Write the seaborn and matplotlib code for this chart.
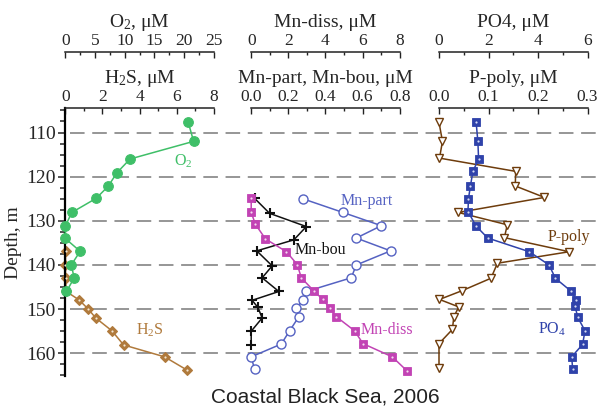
import matplotlib
matplotlib.use('Agg')
import matplotlib.pyplot as plt
import matplotlib.transforms as mtransforms
from matplotlib.ticker import MultipleLocator, FormatStrFormatter
import seaborn as sns

# ---------------- data ----------------
o2_depth = [107.7, 112.0, 116.0, 119.1, 122.2, 124.9, 128.1, 131.2, 134.0, 136.9, 140.0, 142.9, 146.0]
o2 = [20.7, 21.6, 10.9, 8.7, 7.2, 5.2, 1.1, 0.0, 0.0, 2.5, 1.0, 1.5, 0.2]

h2s_depth = [136.9, 140.0, 142.9, 146.0, 147.9, 150.0, 152.0, 154.9, 158.1, 160.8, 163.8]
h2s = [0.03, 0.0, 0.02, 0.05, 0.74, 1.24, 1.64, 2.51, 3.14, 5.35, 6.56]

mn_diss_depth = [124.9, 128.1, 130.8, 134.1, 137.0, 139.9, 142.9, 145.9, 147.8, 149.7, 151.7, 154.9, 157.8, 160.8, 164.0]
mn_diss = [0.0, 0.0, 0.23, 0.77, 1.90, 2.48, 2.70, 3.38, 3.86, 4.22, 4.58, 5.57, 6.02, 7.6, 8.4]

mn_bou_depth = [124.9, 128.3, 131.3, 134.3, 136.8, 140.2, 142.9, 146.0, 148.0, 149.6, 152.0, 155.0, 158.1]
mn_bou = [0.018, 0.099, 0.297, 0.23, 0.03, 0.113, 0.059, 0.149, 0.005, 0.036, 0.059, 0.0, 0.0]

mn_part_depth = [125.0, 128.1, 131.1, 133.9, 136.8, 140.0, 142.9, 146.0, 147.9, 149.8, 151.7, 154.9, 157.9, 160.8, 163.6]
mn_part = [0.278, 0.494, 0.701, 0.566, 0.751, 0.566, 0.539, 0.297, 0.278, 0.243, 0.257, 0.207, 0.162, 0.0, 0.018]

po4_depth = [107.7, 112.0, 116.0, 118.8, 122.1, 125.0, 127.9, 131.2, 133.9, 137.0, 140.0, 143.0, 146.0, 147.9, 149.3, 151.8, 154.9, 158.0, 160.8, 163.5]
po4 = [1.50, 1.57, 1.60, 1.37, 1.27, 1.19, 1.17, 1.50, 1.97, 3.65, 4.45, 4.70, 5.35, 5.55, 5.50, 5.60, 5.90, 5.80, 5.36, 5.40]

ppoly_depth = [107.7, 112.0, 115.8, 118.8, 122.1, 124.7, 128.1, 130.9, 133.8, 137.0, 139.6, 143.0, 145.8, 147.8, 149.5, 151.7, 154.6, 157.8, 163.4]
ppoly = [0.0, 0.007, 0.001, 0.155, 0.154, 0.213, 0.039, 0.138, 0.132, 0.263, 0.118, 0.105, 0.047, 0.001, 0.040, 0.030, 0.027, 0.0, 0.0]

depth_ticks = [110, 120, 130, 140, 150, 160]

# ---------------- style ----------------
sns.set_style('white')
plt.rcParams['font.family'] = ['Liberation Serif', 'DejaVu Serif']
plt.rcParams['mathtext.fontset'] = 'custom'
plt.rcParams['mathtext.rm'] = 'Liberation Serif'
plt.rcParams['mathtext.it'] = 'Liberation Serif:italic'
plt.rcParams['lines.scale_dashes'] = False

C_O2 = '#3fbf68'
C_H2S = '#b07a3c'
C_MNDISS = '#c243b4'
C_MNPART = '#5562c2'
C_MNBOU = '#111111'
C_PO4 = '#2f42aa'
C_PPOLY = '#6e3c0c'

W, H = 599, 408
fig = plt.figure(figsize=(W / 100, H / 100), dpi=100)
fig.patch.set_facecolor('white')

TOP_PX, BOT_PX, WID_PX = 108.0, 376.5, 148.5


def pos(left_px):
    return [left_px / W, 1 - BOT_PX / H, WID_PX / W, (BOT_PX - TOP_PX) / H]


ax1 = fig.add_axes(pos(65.3))
ax2 = fig.add_axes(pos(251.2))
ax3 = fig.add_axes(pos(439.0))

TICK_FS = 12.5
LABEL_FS = 14
IN_FS = 11.5


def style_axis(ax, xlim, major, minor, fmt, label, outward=None):
    ax.set_xlim(*xlim)
    ax.xaxis.set_major_locator(MultipleLocator(major))
    ax.xaxis.set_minor_locator(MultipleLocator(minor))
    ax.xaxis.set_major_formatter(FormatStrFormatter(fmt))
    ax.xaxis.tick_top()
    ax.xaxis.set_label_position('top')
    ax.tick_params(axis='x', which='major', direction='in', length=4, width=1,
                   labelsize=TICK_FS, pad=2.5, top=True, bottom=False, color='#222222')
    ax.tick_params(axis='x', which='minor', direction='in', length=2.5, width=1,
                   top=True, bottom=False, color='#222222')
    ax.set_xlabel(label, fontsize=LABEL_FS, labelpad=4)
    for s in ['bottom', 'right', 'left']:
        ax.spines[s].set_visible(False)
    ax.spines['top'].set_visible(True)
    ax.spines['top'].set_linewidth(1.1)
    ax.spines['top'].set_color('#222222')
    if outward is not None:
        ax.spines['top'].set_position(('outward', outward))
    ax.patch.set_visible(False)


panels = []
for ax in (ax1, ax2, ax3):
    tw = ax.twiny()
    panels.append((ax, tw))
    ax.set_ylim(165.25, 104.45)
    ax.grid(False)
    tw.grid(False)

(a1, t1), (a2, t2), (a3, t3) = panels

OUT = 56 * 0.72
style_axis(a1, (0, 8), 2, 1, '%d', r'H$_2$S, μM')
style_axis(t1, (0, 25), 5, 2.5, '%d', r'O$_2$, μM', outward=OUT)
style_axis(a2, (0, 0.8), 0.2, 0.1, '%.1f', 'Mn-part, Mn-bou, μM')
style_axis(t2, (0, 8), 2, 1, '%d', 'Mn-diss, μM', outward=OUT)
style_axis(a3, (0, 0.3), 0.1, 0.05, '%.1f', 'P-poly, μM')
style_axis(t3, (0, 6), 2, 1, '%d', 'PO4, μM', outward=OUT)

# y axis (depth) only on the first panel
a1.spines['left'].set_visible(True)
a1.spines['left'].set_linewidth(1.6)
a1.spines['left'].set_color('black')
a1.set_yticks(depth_ticks)
a1.yaxis.set_minor_locator(MultipleLocator(2.5))
a1.tick_params(axis='y', which='major', direction='out', length=5, width=1.1,
               labelsize=14, pad=2, left=True, right=False)
a1.tick_params(axis='y', which='minor', direction='out', length=3.5, width=1.1, left=True)
a1.set_ylabel('Depth, m', fontsize=LABEL_FS, labelpad=3)
for a in (a2, a3):
    a.tick_params(axis='y', which='both', left=False, right=False, labelleft=False)
    a.set_ylabel('')

# dashed horizontal guides across the whole figure
trans = mtransforms.blended_transform_factory(fig.transFigure, a1.transData)
for d in depth_ticks:
    a1.plot([70 / W, 1.0], [d, d], transform=trans, color='#8e8e8e', lw=1.3,
            dashes=(10.5, 5.5), clip_on=False, zorder=0.5)

LW = 1.1

# ---------------- panel 1 ----------------
sns.lineplot(x=h2s, y=h2s_depth, ax=a1, orient='y', sort=False, estimator=None,
             color=C_H2S, lw=LW, marker='D', markersize=4.8, markerfacecolor=C_H2S,
             markeredgecolor=C_H2S, markeredgewidth=0.8, clip_on=False, legend=False, zorder=2)
sns.scatterplot(x=h2s, y=h2s_depth, ax=a1, color='#f3e6d2', s=2.5, linewidth=0,
                clip_on=False, legend=False, zorder=3)
sns.lineplot(x=o2, y=o2_depth, ax=t1, orient='y', sort=False, estimator=None,
             color=C_O2, lw=LW, marker='o', markersize=7, markerfacecolor=C_O2,
             markeredgecolor=C_O2, clip_on=False, legend=False, zorder=2)
a1.text(6.38, 116.6, r'O$_2$', color=C_O2, fontsize=IN_FS, ha='center', va='center')
a1.text(4.58, 154.7, r'H$_2$S', color=C_H2S, fontsize=IN_FS, ha='center', va='center')

# ---------------- panel 2 ----------------
sns.lineplot(x=mn_part, y=mn_part_depth, ax=a2, orient='y', sort=False, estimator=None,
             color=C_MNPART, lw=LW, marker='o', markersize=6.5, markerfacecolor='white',
             markeredgecolor=C_MNPART, markeredgewidth=1.0, clip_on=False, legend=False, zorder=2)
sns.lineplot(x=mn_bou, y=mn_bou_depth, ax=a2, orient='y', sort=False, estimator=None,
             color=C_MNBOU, lw=LW, marker='+', markersize=7, markeredgewidth=1.5,
             markeredgecolor=C_MNBOU, markerfacecolor=C_MNBOU,
             clip_on=False, legend=False, zorder=2.5)
sns.lineplot(x=mn_diss, y=mn_diss_depth, ax=t2, orient='y', sort=False, estimator=None,
             color=C_MNDISS, lw=LW, marker='s', markersize=5.2, markerfacecolor=C_MNDISS,
             markeredgecolor=C_MNDISS, markeredgewidth=0.6, clip_on=False, legend=False, zorder=2)
sns.scatterplot(x=mn_diss, y=mn_diss_depth, ax=t2, color='#f4dcef', s=2.5, linewidth=0,
                clip_on=False, legend=False, zorder=3)
a2.text(0.62, 125.4, 'Mn-part', color=C_MNPART, fontsize=IN_FS, ha='center', va='center')
a2.text(0.372, 136.6, 'Mn-bou', color=C_MNBOU, fontsize=IN_FS, ha='center', va='center')
a2.text(0.731, 154.7, 'Mn-diss', color=C_MNDISS, fontsize=IN_FS, ha='center', va='center')

# ---------------- panel 3 ----------------
sns.lineplot(x=ppoly, y=ppoly_depth, ax=a3, orient='y', sort=False, estimator=None,
             color=C_PPOLY, lw=LW, marker='v', markersize=6, markerfacecolor='white',
             markeredgecolor=C_PPOLY, markeredgewidth=1.0, clip_on=False, legend=False, zorder=2)
sns.lineplot(x=po4, y=po4_depth, ax=t3, orient='y', sort=False, estimator=None,
             color=C_PO4, lw=LW, marker='s', markersize=5.2, markerfacecolor=C_PO4,
             markeredgecolor=C_PO4, markeredgewidth=0.6, clip_on=False, legend=False, zorder=2)
sns.scatterplot(x=po4, y=po4_depth, ax=t3, color='#d6dcf4', s=2.5, linewidth=0,
                clip_on=False, legend=False, zorder=3)
a3.text(0.262, 133.6, 'P-poly', color=C_PPOLY, fontsize=IN_FS, ha='center', va='center')
a3.text(0.229, 154.6, r'PO$_4$', color=C_PO4, fontsize=IN_FS, ha='center', va='center')

for a, t in panels:
    a.set_ylim(165.25, 104.45)
    t.set_ylabel('')

fig.text(325.5 / W, 1 - 402.7 / H, 'Coastal Black Sea, 2006', ha='center', va='baseline',
         fontsize=15, family=['Liberation Sans', 'DejaVu Sans'], color='#222222')

fig.savefig('out.png', dpi=100, facecolor='white')
